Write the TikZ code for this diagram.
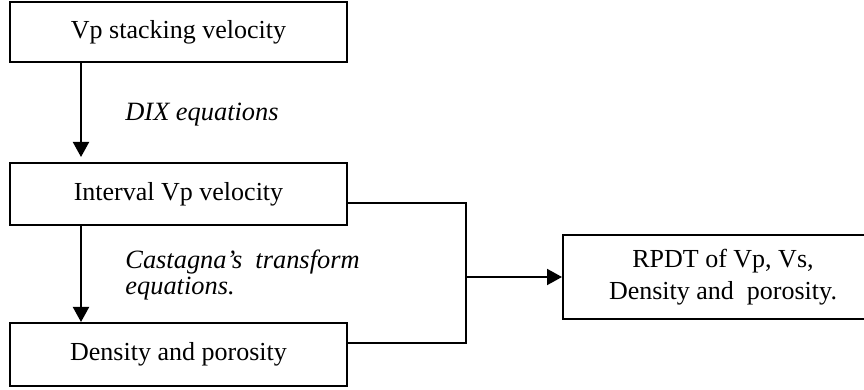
\documentclass[tikz,border=0pt]{standalone}
\usepackage{fontspec}
\setmainfont{Liberation Serif}
\usetikzlibrary{arrows.meta}

\begin{document}
\begin{tikzpicture}[x=0.5pt,y=-0.5pt,
box/.style={rectangle,draw=black,line width=1pt,fill=white,minimum width=168.5pt,font=\fontsize{13}{15.8}\selectfont,align=center,inner sep=0pt},
lab/.style={font=\fontsize{13.2}{13.3}\selectfont\itshape,align=left,inner sep=0pt,right},
arr/.style={line width=1pt,-{Triangle[width=8pt,length=7.5pt]}},
con/.style={line width=1pt}]
	\useasboundingbox (0,0) rectangle (864,390);
	%boxes on the left
	\node[box,minimum height=30pt] at (178.5,32) (vstack) {Vp stacking velocity};
	\node[box,minimum height=31pt] at (178.5,194) (intv) {Interval Vp velocity};
	\node[box,minimum height=31.5pt] at (178.5,354.5) (dens) {Density and porosity};
	%result
	\node[box,minimum width=160pt,minimum height=42pt,anchor=west] at (562,277) (rpdt) {RPDT of Vp, Vs,\\Density and\ \ porosity.};
	%labels
	\node[lab] at (125,115) (dix) {DIX equations};
	\node[lab] at (125,275) (cast) {Castagna’s\ \ transform\\equations.};
	%arrows
	\draw[arr,shorten >=2.5pt] ([xshift=36pt]vstack.south west) -- ([xshift=36pt]intv.north west);
	\draw[arr] ([xshift=36pt]intv.south west) -- ([xshift=36pt]dens.north west);
	\coordinate (jn) at (466,277);
	\draw[con] ([yshift=-4.5pt]intv.east) -| (jn);
	\draw[con] ([yshift=5.5pt]dens.east) -| (jn);
	\draw[arr] (jn) -- (rpdt.west);
\end{tikzpicture}
\end{document}
